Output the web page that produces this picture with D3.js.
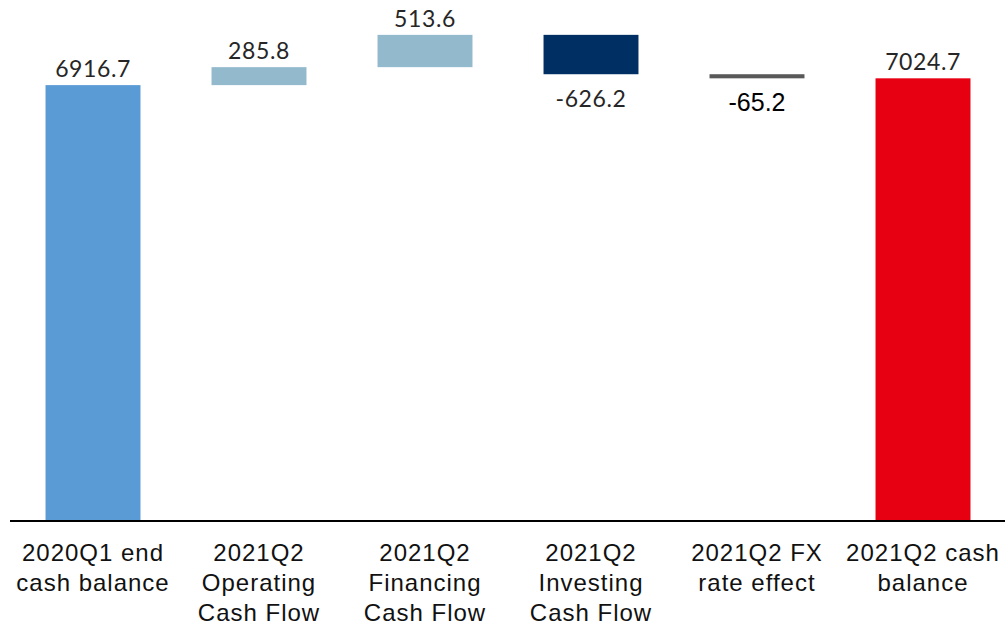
<!DOCTYPE html>
<html>
<head>
<meta charset="utf-8">
<script src="https://cdn.jsdelivr.net/npm/d3@7"></script>
<style>
  html, body { margin: 0; padding: 0; background: #fff; }
  svg { display: block; }
</style>
</head>
<body>
<svg id="chart" width="1007" height="626"></svg>
<script>
// Cash balance bridge: opening balance, quarterly flows, closing balance
const categories = [
  ["2020Q1 end", "cash balance"],
  ["2021Q2", "Operating", "Cash Flow"],
  ["2021Q2", "Financing", "Cash Flow"],
  ["2021Q2", "Investing", "Cash Flow"],
  ["2021Q2 FX", "rate effect"],
  ["2021Q2 cash", "balance"]
];
const values = [6916.7, 285.8, 513.6, -626.2, -65.2, 7024.7];
const kinds = ["total", "delta", "delta", "delta", "delta", "total"];
const colors = ["#5B9BD5", "#92BACC", "#92BACC", "#003063", "#595959", "#E60012"];

const svg = d3.select("#chart");
const baseY = 520;

const keys = categories.map(c => c.join(" "));
const x = d3.scaleBand().domain(keys).range([10, 1006])
  .paddingInner(0.428).paddingOuter(0.214);
const y = d3.scaleLinear().domain([0, 8000]).range([baseY, 17]);

// hyphen-minus, as in the printed figures
const fmt = v => d3.format(".1f")(v).replace("\u2212", "-");

// running totals for floating bars
let running = 0;
const bars = values.map((v, i) => {
  let start, end;
  if (kinds[i] === "total") { start = 0; end = v; running = v; }
  else { start = running; end = running + v; running = end; }
  return { key: keys[i], value: v, start, end, color: colors[i], idx: i };
});

svg.selectAll("rect.bar").data(bars).enter().append("rect")
  .attr("class", "bar")
  .attr("x", d => x(d.key))
  .attr("width", x.bandwidth())
  .attr("y", d => y(Math.max(d.start, d.end)))
  .attr("height", d => Math.abs(y(d.start) - y(d.end)))
  .attr("fill", d => d.color);

// value labels: above positive bars, below negative ones
svg.selectAll("text.val").data(bars).enter().append("text")
  .attr("class", "val")
  .attr("x", d => x(d.key) + x.bandwidth() / 2)
  .attr("y", d => d.value >= 0 ? y(Math.max(d.start, d.end)) - 8 : y(Math.min(d.start, d.end)) + 33)
  .attr("text-anchor", "middle")
  .attr("font-family", d => d.idx === 4 ? "'Liberation Sans', Arial, sans-serif" : "Lato, 'Open Sans', sans-serif")
  .attr("font-size", d => d.idx === 4 ? 25 : 23)
  .attr("letter-spacing", d => d.idx === 4 ? 0 : 0.6)
  .attr("fill", d => d.idx === 4 ? "#000" : "#262626")
  .text(d => fmt(d.value));

// category axis line
svg.append("line")
  .attr("x1", 10).attr("x2", 1005)
  .attr("y1", baseY + 1).attr("y2", baseY + 1)
  .attr("stroke", "#000").attr("stroke-width", 2);

// multi-line category labels
const labels = svg.selectAll("text.cat").data(categories).enter().append("text")
  .attr("class", "cat")
  .attr("text-anchor", "middle")
  .attr("font-family", "'Liberation Sans', Arial, sans-serif")
  .attr("font-size", 24)
  .attr("letter-spacing", 1)
  .attr("fill", "#111");
labels.each(function(lines, i) {
  const cx = x(keys[i]) + x.bandwidth() / 2;
  d3.select(this).selectAll("tspan").data(lines).enter().append("tspan")
    .attr("x", cx)
    .attr("y", (l, j) => 561 + j * 30)
    .text(l => l);
});
</script>
</body>
</html>
